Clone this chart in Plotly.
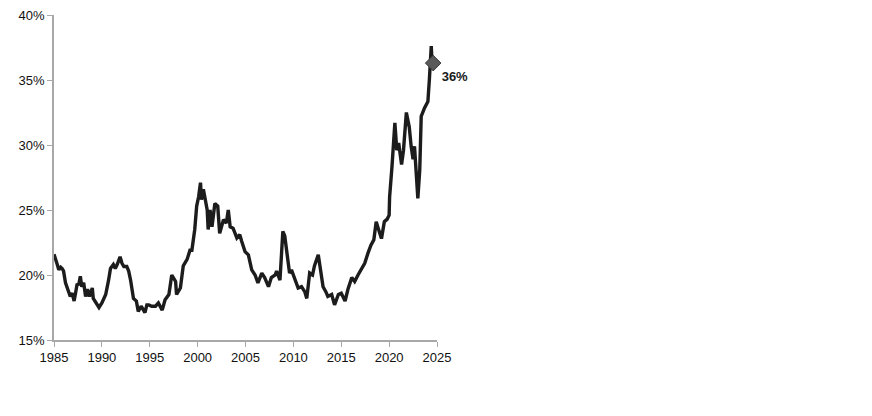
import plotly.graph_objects as go

years = [1985.0, 1985.15, 1985.3, 1985.5, 1985.7, 1985.85, 1986.0, 1986.2, 1986.35, 1986.5,
         1986.7, 1986.9, 1987.1, 1987.25, 1987.4, 1987.6, 1987.75, 1987.9, 1988.1, 1988.3,
         1988.5, 1988.7, 1989.0, 1989.1, 1989.3, 1989.5, 1989.7, 1990.0, 1990.2, 1990.4,
         1990.7, 1990.9, 1991.2, 1991.4, 1991.6, 1991.75, 1991.9, 1992.1, 1992.3, 1992.6,
         1992.8, 1993.0, 1993.3, 1993.6, 1993.8, 1994.1, 1994.35, 1994.5, 1994.7, 1994.9,
         1995.2, 1995.6, 1995.9, 1996.1, 1996.3, 1996.6, 1997.0, 1997.3, 1997.5, 1997.7,
         1997.8, 1998.2, 1998.5, 1998.9, 1999.2, 1999.4, 1999.7, 1999.9, 2000.1, 2000.3,
         2000.4, 2000.6, 2001.0, 2001.1, 2001.3, 2001.5, 2001.8, 2002.1, 2002.3, 2002.7,
         2003.0, 2003.2, 2003.4, 2003.7, 2004.1, 2004.4, 2004.6, 2004.95, 2005.3, 2005.65,
         2006.0, 2006.3, 2006.7, 2007.0, 2007.4, 2007.7, 2008.1, 2008.25, 2008.6, 2008.8,
         2008.9, 2009.1, 2009.35, 2009.6, 2009.8, 2010.2, 2010.5, 2010.85, 2011.2, 2011.4,
         2011.7, 2012.0, 2012.2, 2012.6, 2012.8, 2013.1, 2013.4, 2013.6, 2014.0, 2014.3,
         2014.7, 2015.0, 2015.4, 2015.7, 2016.1, 2016.4, 2016.75, 2017.1, 2017.45, 2017.8,
         2018.1, 2018.4, 2018.65, 2018.9, 2019.2, 2019.5, 2019.8, 2020.0, 2020.05, 2020.3,
         2020.6, 2020.8, 2021.0, 2021.3, 2021.5, 2021.8, 2022.1, 2022.3, 2022.5, 2022.65,
         2022.8, 2023.0, 2023.2, 2023.35, 2023.7, 2024.05, 2024.2, 2024.4, 2024.5, 2024.6]

share = [21.6, 21.3, 20.9, 20.4, 20.6, 20.5, 20.3, 19.4, 19.1, 18.9,
         18.35, 18.6, 18.0, 18.6, 19.25, 19.3, 19.9, 19.1, 19.4, 18.35,
         18.9, 18.35, 19.0, 18.2, 18.0, 17.7, 17.5, 17.85, 18.2, 18.5,
         19.6, 20.5, 20.8, 20.5, 20.8, 21.05, 21.4, 20.9, 20.65, 20.65,
         20.3, 19.6, 18.2, 18.0, 17.2, 17.6, 17.2, 17.1, 17.7, 17.7,
         17.6, 17.6, 17.85, 17.5, 17.3, 18.1, 18.5, 20.0, 19.7, 19.5,
         18.5, 19.0, 20.7, 21.2, 21.9, 21.9, 23.5, 25.3, 26.0, 27.1,
         25.8, 26.6, 25.0, 23.5, 25.0, 23.7, 25.5, 25.3, 23.2, 24.25,
         24.0, 25.0, 23.7, 23.6, 22.85, 23.1, 22.6, 21.8, 21.55, 20.4,
         20.0, 19.4, 20.15, 19.8, 19.1, 19.8, 20.0, 20.3, 19.6, 22.2,
         23.35, 23.0, 21.4, 20.15, 20.4, 19.5, 19.0, 19.1, 18.7, 18.2,
         20.15, 20.0, 20.7, 21.55, 20.4, 19.1, 18.7, 18.35, 18.5, 17.7,
         18.5, 18.6, 18.0, 18.9, 19.8, 19.5, 20.0, 20.5, 20.9, 21.7,
         22.3, 22.7, 24.1, 23.5, 22.8, 24.1, 24.3, 24.6, 26.0, 28.35,
         31.7, 29.6, 30.15, 28.5, 29.6, 32.5, 31.4, 29.9, 28.9, 29.9,
         27.85, 25.9, 28.1, 32.2, 32.85, 33.35, 35.0, 37.6, 36.05, 36.3]

x_ticks = [1985, 1990, 1995, 2000, 2005, 2010, 2015, 2020, 2025]
y_ticks = [15, 20, 25, 30, 35, 40]
last_label = "36%"

fig = go.Figure()
fig.add_trace(go.Scatter(
    x=years, y=share, mode="lines",
    line=dict(color="#1c1c1c", width=3.4),
    showlegend=False, hoverinfo="skip"))
fig.add_trace(go.Scatter(
    x=[years[-1]], y=[share[-1]], mode="markers+text",
    marker=dict(symbol="diamond", size=12, color="#5a5a5a",
                line=dict(color="#3a3a3a", width=1)),
    text=[last_label], textposition="bottom right",
    textfont=dict(family="Liberation Sans, Arial, sans-serif", size=13, color="#1a1a1a"),
    texttemplate="<b>%{text}</b>",
    cliponaxis=False, showlegend=False, hoverinfo="skip"))

axis_font = dict(family="Liberation Sans, Arial, sans-serif", size=13, color="#111111")
fig.update_layout(
    width=856, height=400,
    margin=dict(l=45.5, r=426.5, t=6.7, b=67.7, pad=0, autoexpand=False),
    paper_bgcolor="white", plot_bgcolor="white",
    xaxis=dict(range=[1985, 2025], tickvals=x_ticks, ticktext=[str(v) for v in x_ticks],
               showgrid=False, zeroline=False, showline=True, linecolor="#a8a8a8", linewidth=1.5,
               ticks="outside", ticklen=5, tickcolor="#a8a8a8", tickwidth=1.2,
               tickfont=axis_font, ticklabeloverflow="allow", automargin=False),
    yaxis=dict(range=[15, 40], tickvals=y_ticks, ticktext=[f"{v}%" for v in y_ticks],
               showgrid=False, zeroline=False, showline=True, linecolor="#a8a8a8", linewidth=1.5,
               ticks="outside", ticklen=5, tickcolor="#a8a8a8", tickwidth=1.2,
               tickfont=axis_font, ticklabeloverflow="allow", automargin=False),
)

fig.write_html("out.html")
